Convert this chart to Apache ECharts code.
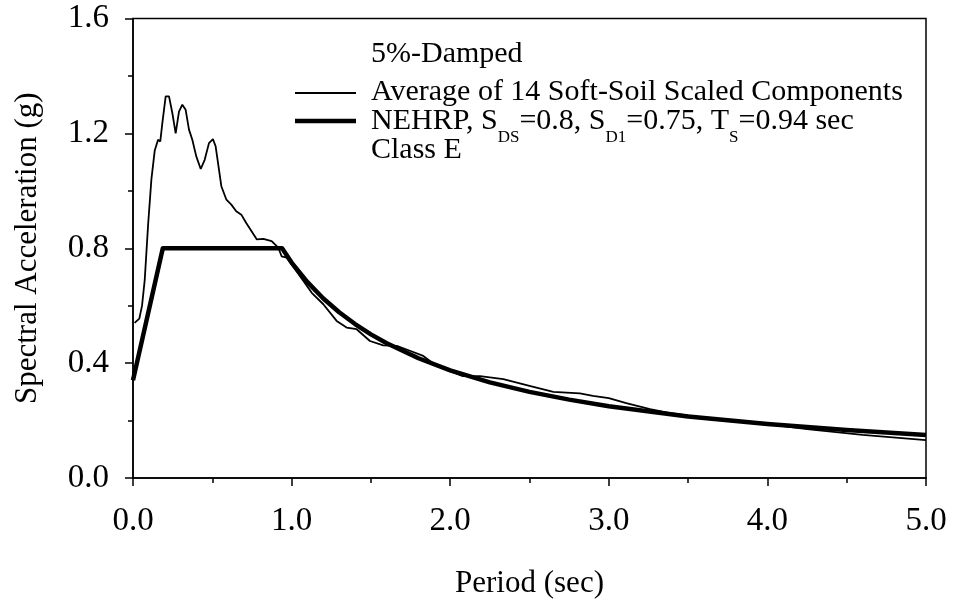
<!DOCTYPE html>
<html>
<head>
<meta charset="utf-8">
<title>Spectral Acceleration</title>
<script src="https://cdn.jsdelivr.net/npm/echarts@6/dist/echarts.min.js"></script>
<style>
  html, body { margin: 0; padding: 0; background: #fff; }
  #chart { width: 953px; height: 604px; }
</style>
</head>
<body>
<div id="chart"></div>
<script>
// average of 14 soft-soil scaled components
const periodAvg = [0.01, 0.04, 0.057, 0.074, 0.095, 0.116, 0.137, 0.158, 0.172, 0.185,
  0.206, 0.227, 0.248, 0.269, 0.29, 0.311, 0.332, 0.353, 0.374, 0.399,
  0.427, 0.452, 0.479, 0.504, 0.521, 0.536, 0.557, 0.589, 0.62, 0.651,
  0.683, 0.714, 0.78, 0.822, 0.874, 0.916, 0.937, 0.969, 1.053, 1.127,
  1.2, 1.284, 1.347, 1.41, 1.494, 1.578, 1.663, 1.746, 1.83, 1.915,
  2.08, 2.188, 2.335, 2.5, 2.65, 2.818, 2.9, 3.0, 3.11, 3.26,
  3.386, 3.6, 3.827, 4.0, 4.25, 4.6, 5.0]
const saAvg = [0.54, 0.555, 0.6, 0.69, 0.88, 1.04, 1.14, 1.178, 1.172, 1.236,
  1.329, 1.329, 1.271, 1.2, 1.276, 1.3, 1.282, 1.213, 1.178, 1.12,
  1.076, 1.108, 1.166, 1.18, 1.155, 1.097, 1.016, 0.969, 0.952, 0.929,
  0.917, 0.888, 0.831, 0.833, 0.825, 0.802, 0.772, 0.767, 0.703, 0.645,
  0.605, 0.547, 0.524, 0.518, 0.477, 0.462, 0.46, 0.443, 0.425, 0.39,
  0.355, 0.355, 0.344, 0.321, 0.3, 0.295, 0.286, 0.278, 0.261, 0.24,
  0.226, 0.21, 0.197, 0.188, 0.17, 0.15, 0.132]

// NEHRP design spectrum, Class E
const periodCode = [0, 0.188, 0.94, 1.0, 1.1, 1.2, 1.3, 1.4, 1.5, 1.6,
  1.8, 2.0, 2.25, 2.5, 2.75, 3.0, 3.5, 4.0, 4.5, 5.0]
const saCode = [0.34, 0.8, 0.8, 0.75, 0.682, 0.625, 0.577, 0.536, 0.5, 0.469,
  0.417, 0.375, 0.333, 0.3, 0.273, 0.25, 0.214, 0.188, 0.167, 0.15]

const xTicks = [0, 5, 1]      // min, max, interval
const yTicks = [0, 1.6, 0.4]

const serif = '"Liberation Serif", "Times New Roman", serif'

const pairs = (xs, ys) => xs.map((x, i) => [x, ys[i]])

const chart = echarts.init(document.getElementById('chart'))

function axisStyle () {
  return {
    axisLine: { show: true, lineStyle: { color: '#000', width: 1.5 } },
    axisTick: { show: true, inside: false, length: 8, lineStyle: { color: '#000', width: 1.5 } },
    minorTick: { show: true, splitNumber: 2, length: 5, lineStyle: { color: '#000', width: 1.5 } },
    splitLine: { show: false },
    minorSplitLine: { show: false }
  }
}

function legendText (text, y) {
  return {
    type: 'text',
    style: {
      text: text,
      x: 371,
      y: y,
      verticalAlign: 'middle',
      fontFamily: serif,
      fontSize: 30,
      fill: '#000'
    }
  }
}

chart.setOption({
  animation: false,
  backgroundColor: '#fff',
  grid: {
    left: 133,
    right: 27,
    top: 18.5,
    bottom: 125,
    show: true,
    borderColor: '#000',
    borderWidth: 1.5
  },
  xAxis: Object.assign({
    type: 'value',
    min: xTicks[0],
    max: xTicks[1],
    interval: xTicks[2],
    name: 'Period (sec)',
    nameLocation: 'middle',
    nameGap: 90,
    nameTextStyle: { fontFamily: serif, fontSize: 31, color: '#000' },
    axisLabel: {
      margin: 27,
      fontFamily: serif,
      fontSize: 33,
      color: '#000',
      formatter: v => v.toFixed(1)
    }
  }, axisStyle()),
  yAxis: Object.assign({
    type: 'value',
    min: yTicks[0],
    max: yTicks[1],
    interval: yTicks[2],
    name: 'Spectral Acceleration (g)',
    nameLocation: 'middle',
    nameGap: 90,
    nameTextStyle: { fontFamily: serif, fontSize: 31, color: '#000' },
    axisLabel: {
      margin: 24,
      fontFamily: serif,
      fontSize: 33,
      color: '#000',
      formatter: v => v.toFixed(1)
    }
  }, axisStyle()),
  series: [
    {
      name: 'NEHRP',
      type: 'line',
      data: pairs(periodCode, saCode),
      symbol: 'none',
      lineStyle: { color: '#000', width: 4.5, join: 'round' }
    },
    {
      name: 'Average',
      type: 'line',
      data: pairs(periodAvg, saAvg),
      symbol: 'none',
      lineStyle: { color: '#000', width: 1.8 }
    }
  ],
  graphic: [
    legendText('5%-Damped', 54),
    { type: 'line', shape: { x1: 295, y1: 93, x2: 356, y2: 93 }, style: { stroke: '#000', lineWidth: 1.8 } },
    legendText('Average of 14 Soft-Soil Scaled Components', 92.5),
    { type: 'line', shape: { x1: 295, y1: 121, x2: 356, y2: 121 }, style: { stroke: '#000', lineWidth: 4.5 } },
    {
      type: 'text',
      style: {
        text: '{m|NEHRP, S}{s|DS}{m|=0.8, S}{s|D1}{m|=0.75, T}{s|S}{m|=0.94 sec}',
        x: 371,
        y: 121,
        verticalAlign: 'middle',
        rich: {
          m: { fontFamily: serif, fontSize: 30, color: '#000' },
          s: { fontFamily: serif, fontSize: 17, color: '#000', padding: [33, 0, 0, 0] }
        }
      }
    },
    legendText('Class E', 150)
  ]
})
</script>
</body>
</html>
